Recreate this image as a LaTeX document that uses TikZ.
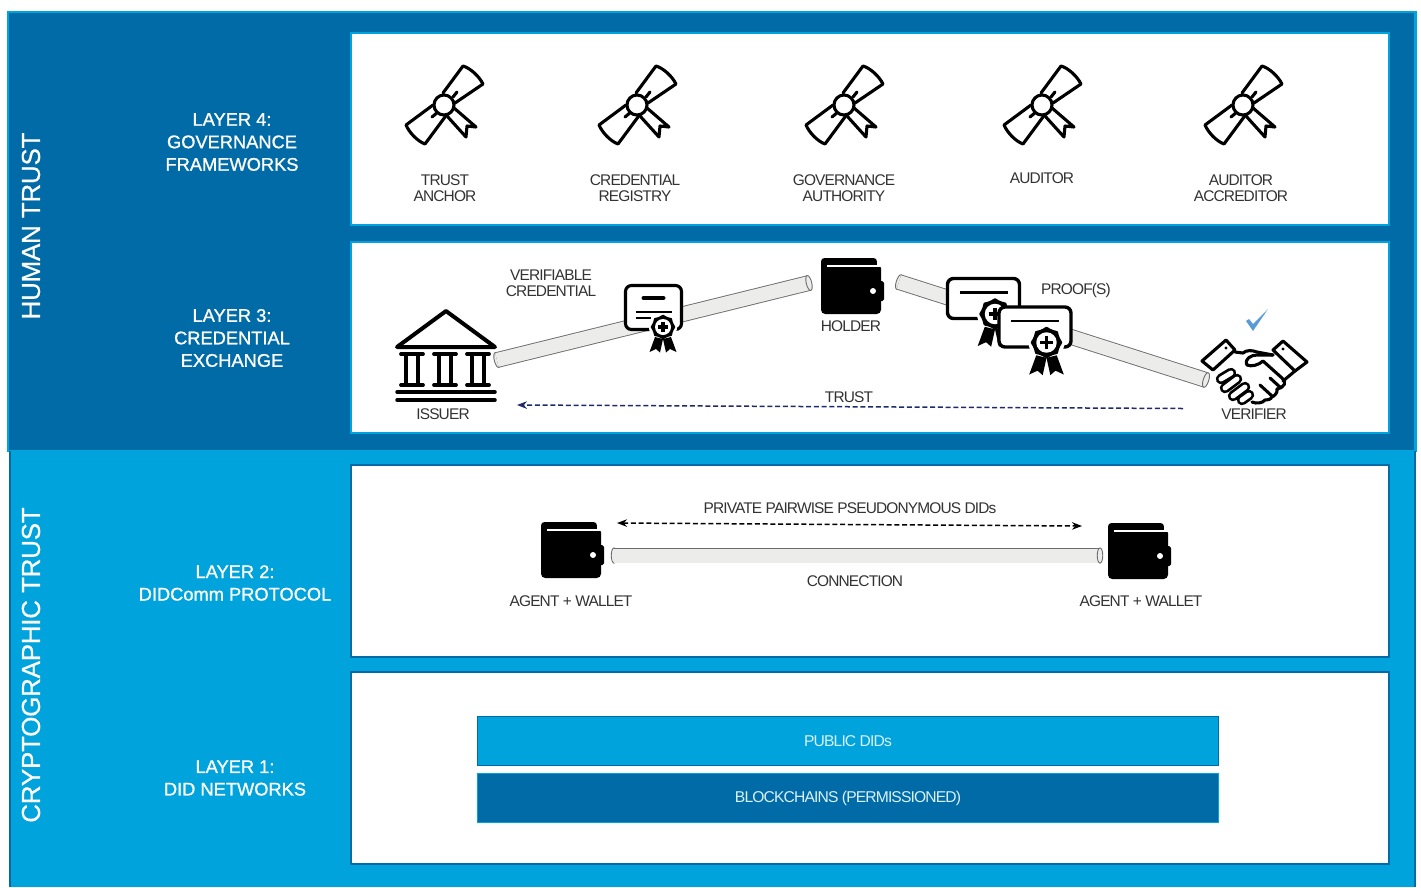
\documentclass[tikz,border=0pt]{standalone}
\usepackage{fontspec}
\setmainfont{Liberation Sans}
\newfontfamily\tightfont[LetterSpace=-5.5]{Liberation Sans}
\newfontfamily\layerfont[FakeBold=1]{Liberation Sans}
\newfontfamily\bandfont[FakeBold=0.5, LetterSpace=-1]{Liberation Sans}
\usetikzlibrary{arrows.meta, positioning, shapes.geometric}

\definecolor{deepblue}{HTML}{006BA6}
\definecolor{brightblue}{HTML}{00A3DC}
\definecolor{tubegray}{HTML}{ECECEA}
\definecolor{trustnavy}{HTML}{1F2A6B}
\definecolor{checkblue}{HTML}{5B9BD5}
\definecolor{labelgray}{HTML}{333333}

\tikzset{
    % white layer boxes
    upperpanel/.style={rectangle, draw=brightblue, fill=white, line width=0.4mm, minimum width=20.76cm, minimum height=3.84cm, inner sep=0},
    lowerpanel/.style={rectangle, draw=deepblue, fill=white, line width=0.4mm, minimum width=20.76cm, minimum height=3.84cm, inner sep=0},
    bar/.style={rectangle, minimum width=14.84cm, minimum height=0.98cm, inner sep=0, text=white!85!brightblue, line width=0.2mm, font=\tightfont\fontsize{8.9}{9}\selectfont},
    trustlabel/.style={rotate=90, text=white, font=\bandfont\fontsize{14.8}{16}\selectfont},
    layerlabel/.style={align=center, text=white, inner sep=0, font=\layerfont\fontsize{10.4}{12.8}\selectfont},
    caption/.style={align=center, text=labelgray, inner sep=0, font=\tightfont\fontsize{8.8}{9.1}\selectfont},
    tube/.style={draw=gray!85!black, line width=0.18mm, double=tubegray, double distance=2.8mm},
    tubecap/.style={ellipse, draw=gray!85!black, fill=tubegray, line width=0.18mm, minimum width=1.1mm, minimum height=3.05mm, inner sep=0},
    iconline/.style={line width=0.62mm, line join=round, line cap=round},
    dashline/.style={dash pattern=on 1mm off 0.55mm, line width=0.3mm},
    % graduation scroll
    scroll/.pic={
        \draw[iconline] (-1,-12) -- (19,-39) .. controls (26,-37) and (35,-29) .. (39,-21) -- (11,-2);
        \draw[iconline] (-11,0) -- (-38,20) .. controls (-35,27) and (-27,36) .. (-19,39) -- (1,12);
        \draw[iconline] (9,-8) -- (13,-13);
        \draw[iconline] (-12,12) -- (-6,7);
        \draw[iconline] (10,3) -- (32,22) -- (23,21) -- (22,32) -- (3,11);
        \draw[iconline, fill=white] (0,0) circle (10);
    },
    wallet/.pic={
        \fill[rounded corners=2pt] (-31,-28) rectangle (25,-10);
        \fill[rounded corners=2.4pt] (-31,-22) rectangle (29,28);
        \fill[rounded corners=1pt] (26,-5) rectangle (32,15);
        \fill[white] (-25,-21.2) rectangle (25,-19);
        \fill[white] (25,-28) rectangle (30,-19);
        \fill[white] (21,5) circle (3);
    },
    bank/.pic={
        \draw[iconline, line width=0.8mm] (0,-36) -- (49,0) -- (-49,0) -- cycle;
        \foreach \colx in {-34,-1,32}{
            \draw[iconline, line width=0.75mm] (\colx-11,7) -- (\colx+11,7);
            \draw[iconline, line width=0.75mm] (\colx-11,38) -- (\colx+11,38);
            \draw[line width=0.95mm] (\colx-6,7) -- (\colx-6,38);
            \draw[line width=0.95mm] (\colx+6,7) -- (\colx+6,38);
        }
        \draw[iconline, line width=0.7mm] (-49,45) -- (49,45);
        \draw[iconline, line width=0.7mm] (-49,53) -- (49,53);
    },
    seal/.pic={
        \fill[white] (0,0) circle (14);
        \fill[black] (-8,10) -- (-13.5,25) -- (-7,22) -- (-3,25.5) -- (0,12) -- cycle;
        \fill[black] (8,10) -- (13.5,25) -- (7,22) -- (3,25.5) -- (0,12) -- cycle;
        \fill[black] plot[smooth cycle, samples=24, domain=0:345] (\x:{11.5+0.8*cos(8*\x)});
        \fill[white] (0,0) circle (8);
        \draw[line width=0.65mm] (-5,0) -- (5,0);
        \draw[line width=0.65mm] (0,-5) -- (0,5);
    },
    credential/.pic={
        \draw[iconline, fill=white, rounded corners=1.2mm, line cap=butt] (-28,-22) rectangle (28,22);
        \draw[line width=0.8mm, line cap=round] (-10,-9.5) -- (10,-9.5);
        \draw[line width=0.4mm] (-18,4) -- (18,4);
        \draw[line width=0.4mm] (-18,10) -- (-3,10);
        \pic at (9.5,19.5) {seal};
    },
    proof/.pic={
        \draw[line width=0.68mm, fill=white, rounded corners=1.2mm] (-36,-20) rectangle (36,20);
        \draw[line width=0.5mm] (-24,-6) -- (24,-6);
        \pic[scale=1.28] at (11.5,15.5) {seal};
    },
    handshake/.pic={
        \draw[iconline, fill=white] (-28,-16) -- (-19,-6) -- (-41,14) -- (-52,5) -- cycle;
        \draw[iconline, fill=white] (29,-15) -- (53,6) -- (41,15) -- (19,-6) -- cycle;
        \fill (-28,-8) circle (1.6);
        \fill (29,-7) circle (1.6);
        \draw[iconline] (-19,-4) -- (-11,-3) .. controls (-8,-6) and (-2,-6) .. (3,-4) -- (19,-1);
        \draw[iconline] (19,-1) -- (3,-1) .. controls (-3,-1) and (-10,3) .. (-7,9) .. controls (-3,11) and (5,9) .. (9,5) -- (28,22) .. controls (33,26) and (31,31) .. (23,33) .. controls (24,37) and (20,40) .. (18,41) .. controls (16,44) and (13,44) .. (11,44) .. controls (9,47) and (2,48) .. (-2,46);
        \draw[iconline] (29,25) -- (41,15);
        \draw[iconline] (6,29) -- (18,40);
        \draw[iconline] (16,22) -- (27,32);
        \foreach \fx/\fy/\gx/\gy in {-33/23/-23/17, -29/32/-17/23, -21/40/-9/31, -12/44/-5/39}{
            \draw[iconline, line width=0.55mm, double=white, double distance=1mm] (\fx,\fy) -- (\gx,\gy);
        }
    },
}

\begin{document}
\begin{tikzpicture}[x=0.02cm, y=-0.02cm]
\useasboundingbox (0,0) rectangle (1421,887);

% Outer bands
\fill[brightblue] (7,11) rectangle (1417,452);
\fill[deepblue] (9,13) rectangle (1414,450);
\fill[deepblue] (9,451) rectangle (1416,887);
\fill[brightblue] (11,451) rectangle (1414,887);

\node[trustlabel] (humantrust) at (31,226) {HUMAN TRUST};
\node[trustlabel] (cryptotrust) at (31,665) {CRYPTOGRAPHIC TRUST};

% Layer boxes
\node[upperpanel] (governance) at (870,129) {};
\node[upperpanel] (exchange) at (870,337.5) {};
\node[lowerpanel] (didcomm) at (870,561) {};
\node[lowerpanel] (networks) at (870,768) {};

\node[layerlabel] (layerfour) at (232,142) {LAYER 4:\\GOVERNANCE\\FRAMEWORKS};
\node[layerlabel] (layerthree) at (232,338) {LAYER 3:\\CREDENTIAL\\EXCHANGE};
\node[layerlabel] (layertwo) at (235,583) {LAYER 2:\\DIDComm PROTOCOL};
\node[layerlabel] (layerone) at (235,778) {LAYER 1:\\DID NETWORKS};

% Layer 4
\coordinate (anchor) at (444,105);
\coordinate (registry) at (637,105);
\coordinate (authority) at (844,105);
\coordinate (auditor) at (1042,105);
\coordinate (accreditor) at (1243,105);
\pic at (anchor) {scroll};
\pic at (registry) {scroll};
\pic at (authority) {scroll};
\pic at (auditor) {scroll};
\pic at (accreditor) {scroll};
\node[caption] (anchortext) at (445,188) {TRUST\\ANCHOR};
\node[caption] (registrytext) at (635,188) {CREDENTIAL\\REGISTRY};
\node[caption] (authoritytext) at (844,188) {GOVERNANCE\\AUTHORITY};
\node[caption] (auditortext) at (1042,178) {AUDITOR};
\node[caption] (accreditortext) at (1241,188) {AUDITOR\\ACCREDITOR};

% Layer 3
\coordinate (issuer) at (446,347);
\coordinate (holder) at (852,286);
\coordinate (verifier) at (1254,356);
\coordinate (issuerend) at (497,360);
\coordinate (holderin) at (809,283);
\coordinate (holderout) at (899,282);
\coordinate (verifierend) at (1206,380);
\coordinate (trustfrom) at (1183,408.5);
\coordinate (trustto) at (517,405);

\node[tubecap, rotate=13.7] (capa) at (issuerend) {};
\draw[tube] (issuerend) -- (holderin);
\node[tubecap, rotate=13.7] (capb) at (holderin) {};
\node[tubecap, rotate=-17.6] (capc) at (holderout) {};
\draw[tube] (holderout) -- (verifierend);
\node[tubecap, rotate=-17.6] (capd) at (verifierend) {};

\pic at (issuer) {bank};
\pic at (holder) {wallet};
\pic at (653.5,307.5) {credential};
\pic at (983.5,298.5) {proof};
\pic at (1035,327) {proof};
\pic at (verifier) {handshake};
\fill[checkblue] (1268,309) -- (1253,331) -- (1246,321) -- (1249,319) -- (1253,324) -- cycle;

\draw[trustnavy, dashline, -{Stealth[length=2mm]}] (trustfrom) -- (trustto);

\node[caption] (credtext) at (551,283) {VERIFIABLE\\CREDENTIAL};
\node[caption] (holdertext) at (851,326) {HOLDER};
\node[caption] (prooftext) at (1076,290) {PROOF(S)};
\node[caption] (issuertext) at (443,414) {ISSUER};
\node[caption] (trusttext) at (849,397) {TRUST};
\node[caption] (verifiertext) at (1254,414) {VERIFIER};

% Layer 2
\coordinate (leftagent) at (572,550);
\coordinate (rightagent) at (1139,551);
\coordinate (pipefrom) at (614,555.5);
\coordinate (pipeto) at (1100,555.5);
\coordinate (pairfrom) at (617,523);
\coordinate (pairto) at (1082,526);

\node[tubecap] (capl) at (pipefrom) {};
\draw[tube] (pipefrom) -- (pipeto);
\node[tubecap] (capr) at (pipeto) {};
\pic at (leftagent) {wallet};
\pic at (rightagent) {wallet};
\draw[black, dashline, {Stealth[length=2mm]}-{Stealth[length=2mm]}] (pairfrom) -- (pairto);

\node[caption] (pairtext) at (850,508) {PRIVATE PAIRWISE PSEUDONYMOUS DIDs};
\node[caption] (pipetext) at (855,581) {CONNECTION};
\node[caption] (leftagenttext) at (571,601.5) {AGENT + WALLET};
\node[caption] (rightagenttext) at (1141,601.5) {AGENT + WALLET};

% Layer 1
\node[bar, fill=brightblue, draw=deepblue] (publicdids) at (848,741) {PUBLIC DIDs};
\node[bar, fill=deepblue, draw=brightblue, below=0.14cm of publicdids] (blockchains) {BLOCKCHAINS (PERMISSIONED)};

\end{tikzpicture}
\end{document}
